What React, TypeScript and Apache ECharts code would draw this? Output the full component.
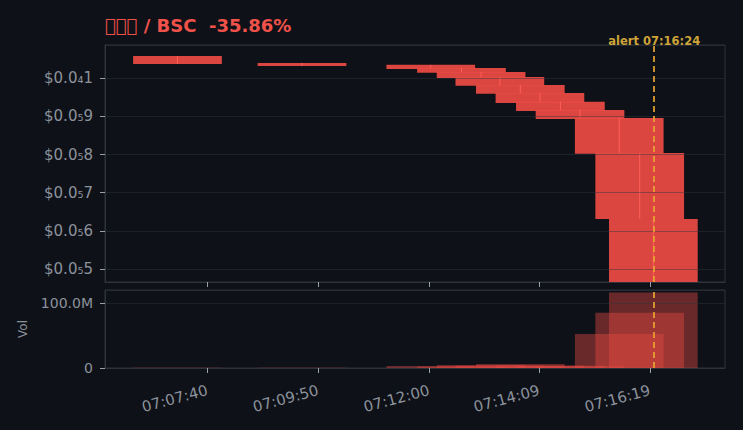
import React, { useEffect, useRef } from 'react';
import * as echarts from 'echarts';

// ---- data ----
const titleText = '\uE000\uE001\uE002 / BSC  -35.86%';
const candleTimes = ['07:07:05', '07:09:31', '07:12:02', '07:12:38', '07:13:01', '07:13:23', '07:13:47', '07:14:10', '07:14:34', '07:14:57', '07:15:43', '07:16:07', '07:16:23'];
const opens = [10.58e-6, 10.40e-6, 10.35e-6, 10.27e-6, 10.165e-6, 10.034e-6, 9.82e-6, 9.61e-6, 9.38e-6, 9.17e-6, 8.96e-6, 8.04e-6, 6.31e-6];
const closes = [10.37e-6, 10.32e-6, 10.24e-6, 10.14e-6, 10.008e-6, 9.80e-6, 9.59e-6, 9.35e-6, 9.14e-6, 8.93e-6, 8.02e-6, 6.31e-6, 4.66e-6];
const highs = [10.58e-6, 10.40e-6, 10.35e-6, 10.27e-6, 10.165e-6, 10.034e-6, 9.82e-6, 9.61e-6, 9.38e-6, 9.17e-6, 8.96e-6, 8.04e-6, 6.31e-6];
const lows = [10.37e-6, 10.32e-6, 10.24e-6, 10.14e-6, 10.008e-6, 9.80e-6, 9.59e-6, 9.35e-6, 9.14e-6, 8.93e-6, 8.02e-6, 6.31e-6, 4.66e-6];
const volumes = [0.3e6, 0.3e6, 3e6, 2.5e6, 4.5e6, 4e6, 6e6, 4e6, 3.5e6, 3e6, 52.5e6, 85e6, 116e6];
const xTickLabels = ['07:07:40', '07:09:50', '07:12:00', '07:14:09', '07:16:19'];
const alertTime = '07:16:24';
const xRange = ['07:05:40', '07:17:47'];
const priceRange = [4.66e-6, 10.87e-6];
const volumeRange = [0, 120e6];
const candleSpanSeconds = 104;

const BG = '#0e1117';
const RED = '#e84a42';
const TEXT = '#8c929c';
const BORDER = '#2e333b';

function toSec(s: string): number {
  const [h, m, sec] = s.split(':').map(Number);
  return h * 3600 + m * 60 + sec;
}
function fmtTime(v: number): string {
  const t = Math.round(v);
  const h = Math.floor(t / 3600);
  const m = Math.floor((t % 3600) / 60);
  const s = t % 60;
  const p = (n: number) => String(n).padStart(2, '0');
  return `${p(h)}:${p(m)}:${p(s)}`;
}
const SUB = '₀₁₂₃₄₅₆₇₈₉';
function fmtPrice(v: number): string {
  const u = v * 1e6;
  if (Math.abs(u - Math.round(u)) > 1e-6) return '';
  const s = v.toFixed(10).replace(/0+$/, '');
  const m = s.match(/^0\.(0+)(\d+)$/);
  if (m && m[1].length >= 4) {
    const z = String(m[1].length).split('').map((d) => SUB[Number(d)]).join('');
    return `$0.0${z}${m[2]}`;
  }
  return '$' + s;
}
function fmtVol(v: number): string {
  if (v === 0) return '0';
  if (v % 100e6 !== 0) return '';
  return (v / 1e6).toFixed(1) + 'M';
}

export default function App() {
  const ref = useRef<HTMLDivElement>(null);
  useEffect(() => {
    document.body.style.margin = '0';
    document.body.style.background = BG;
    const chart = echarts.init(ref.current!, undefined, { renderer: 'svg' });
    const candleData = candleTimes.map((t, i) => [toSec(t), opens[i], closes[i], lows[i], highs[i]]);
    const volData = candleTimes.map((t, i) => [toSec(t), volumes[i]]);
    const tickVals = xTickLabels.map(toSec);
    const alertX = toSec(alertTime);

    const xBase = {
      type: 'value',
      min: toSec(xRange[0]),
      max: toSec(xRange[1]),
      z: 3,
      axisLine: { lineStyle: { color: BORDER } },
      axisTick: { show: true, customValues: tickVals, lineStyle: { color: '#9aa0a8' }, length: 5 },
      splitLine: { show: false },
    };

    chart.setOption({
      animation: false,
      backgroundColor: BG,
      textStyle: { fontFamily: 'DejaVu Sans' },
      title: {
        text: titleText,
        left: 105,
        top: 16,
        padding: 0,
        textStyle: { color: '#f0524a', fontSize: 18, fontWeight: 'bold', fontFamily: 'DejaVu Sans' },
      },
      grid: [
        { left: 105, right: 18, top: 45, height: 237, show: true, borderColor: BORDER, backgroundColor: 'transparent' },
        { left: 105, right: 18, top: 290, height: 78, show: true, borderColor: BORDER, backgroundColor: 'transparent' },
      ],
      xAxis: [
        { ...xBase, gridIndex: 0, axisLabel: { show: false, customValues: tickVals } },
        {
          ...xBase,
          gridIndex: 1,
          axisLabel: { show: true, customValues: tickVals, rotate: 15, color: TEXT, fontSize: 15, margin: 22, formatter: (v: number) => fmtTime(v) },
        },
      ],
      yAxis: [
        {
          type: 'value',
          gridIndex: 0,
          min: priceRange[0],
          max: priceRange[1],
          z: 3,
          axisLine: { show: true, lineStyle: { color: BORDER } },
          axisTick: { show: true, lineStyle: { color: '#9aa0a8' }, length: 5 },
          axisLabel: { color: TEXT, fontSize: 15, margin: 12, formatter: fmtPrice, showMinLabel: false, showMaxLabel: false },
          splitLine: { show: true, lineStyle: { color: 'rgba(48,54,64,0.45)' } },
        },
        {
          type: 'value',
          gridIndex: 1,
          min: volumeRange[0],
          max: volumeRange[1],
          interval: 100e6,
          z: 3,
          name: 'Vol',
          nameLocation: 'middle',
          nameGap: 76,
          nameTextStyle: { color: TEXT, fontSize: 12 },
          axisLine: { show: true, lineStyle: { color: BORDER } },
          axisTick: { show: true, lineStyle: { color: '#9aa0a8' }, length: 5 },
          axisLabel: { color: TEXT, fontSize: 14, margin: 12, formatter: fmtVol, showMaxLabel: false },
          splitLine: { show: true, lineStyle: { color: 'rgba(48,54,64,0.45)' } },
        },
      ],
      series: [
        {
          type: 'custom',
          xAxisIndex: 0,
          yAxisIndex: 0,
          clip: true,
          z: 2,
          data: candleData,
          renderItem: (params: any, api: any) => {
            const t = api.value(0);
            const o = api.value(1);
            const c = api.value(2);
            const l = api.value(3);
            const h = api.value(4);
            const pTop = api.coord([t, Math.max(o, c)]);
            const pBot = api.coord([t, Math.min(o, c)]);
            const pH = api.coord([t, h]);
            const pL = api.coord([t, l]);
            const w = api.size([candleSpanSeconds, 0])[0];
            return {
              type: 'group',
              children: [
                {
                  type: 'rect',
                  shape: { x: pTop[0] - w / 2, y: pTop[1], width: w, height: Math.max(1, pBot[1] - pTop[1]) },
                  style: { fill: RED, opacity: 0.95 },
                },
                {
                  type: 'line',
                  shape: { x1: pH[0], y1: pH[1], x2: pL[0], y2: pL[1] },
                  style: { stroke: '#ff5f55', lineWidth: 1 },
                },
              ],
            };
          },
          markLine: {
            symbol: 'none',
            silent: true,
            z: 5,
            lineStyle: { color: '#e8a530', type: [6, 4], width: 2, opacity: 0.85 },
            label: {
              show: true,
              position: 'end',
              distance: -2,
              formatter: 'alert ' + alertTime,
              color: '#f0c040',
              fontWeight: 'bold',
              fontSize: 11.5,
            },
            data: [{ xAxis: alertX }],
          },
        },
        {
          type: 'custom',
          xAxisIndex: 1,
          yAxisIndex: 1,
          clip: true,
          z: 2,
          data: volData,
          renderItem: (params: any, api: any) => {
            const t = api.value(0);
            const v = api.value(1);
            const p1 = api.coord([t, v]);
            const p0 = api.coord([t, 0]);
            const w = api.size([candleSpanSeconds, 0])[0];
            return {
              type: 'rect',
              shape: { x: p1[0] - w / 2, y: p1[1], width: w, height: p0[1] - p1[1] },
              style: { fill: RED, opacity: 0.42 },
            };
          },
          markLine: {
            symbol: 'none',
            silent: true,
            z: 5,
            lineStyle: { color: '#e8a530', type: [6, 4], width: 2, opacity: 0.85 },
            label: { show: false },
            data: [{ xAxis: alertX }],
          },
        },
      ],
    });
    return () => chart.dispose();
  }, []);
  return <div ref={ref} style={{ width: 743, height: 430, background: BG }} />;
}
